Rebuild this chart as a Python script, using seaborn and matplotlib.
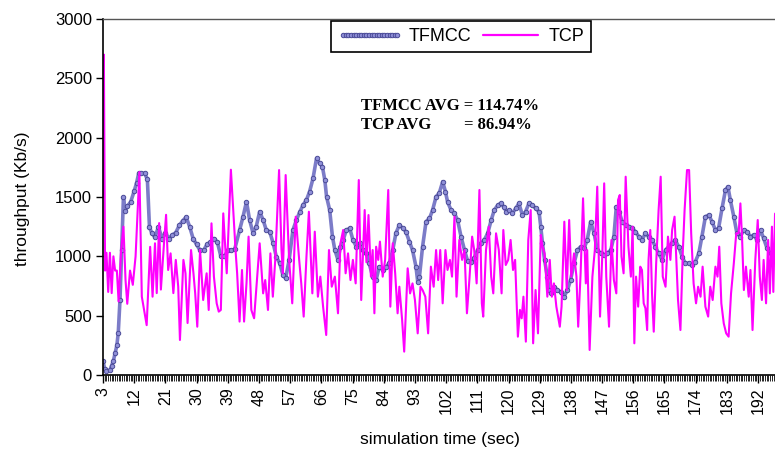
import matplotlib
matplotlib.use("Agg")
import matplotlib.pyplot as plt
import seaborn as sns
from matplotlib.lines import Line2D
from matplotlib.ticker import MultipleLocator, FixedLocator

# ---------------- data ----------------
tick_values = list(range(3, 193, 9))
tick_labels = [str(v) for v in tick_values]

tfmcc_t = [3, 3.5, 4, 5, 5.5, 6, 6.5, 7, 7.4, 7.9, 8.4, 8.9, 9.4, 10, 11, 12, 12.7, 13.3, 14, 15,
           15.8, 16.4, 17, 18, 19, 20, 21, 22, 23, 24, 25, 26, 27, 28, 29, 30, 31, 32, 33, 34,
           35, 36, 37, 38, 39, 40, 41, 42.4, 43.4, 44.4, 45.3, 46.3, 47.2, 48.2, 49.2, 50.1, 51.1,
           52.1, 53.0, 54.0, 54.9, 55.7, 56.7, 57.8, 58.8, 59.8, 60.7, 61.7, 62.6, 63.6, 64.6,
           65.5, 66.3, 67.0, 67.5, 68.4, 69.2, 69.9, 70.8, 71.5, 72.3, 73.2, 74.2, 75.1, 76.1,
           77.1, 78.0, 79.0, 79.8, 80.8, 81.8, 82.7, 83.7, 84.7, 85.6, 86.6, 87.5, 88.5, 89.5,
           90.4, 91.4, 92.3, 93.3, 93.8, 94.3, 95.2, 96.2, 97.2, 98.1, 99.1, 100.0, 101.0, 101.8,
           102.4, 103.4, 104.4, 105.3, 106.3, 107.3, 108.2, 109.2, 110.1, 111.1, 112.1, 113.0,
           114.0, 115.0, 115.9, 116.9, 117.8, 118.6, 119.4, 120.1, 121.1, 122.1, 123.0, 124.0,
           124.9, 125.9, 126.9, 127.8, 128.8, 129.3, 129.8, 130.4, 131.2, 131.7, 132.2, 133.1,
           134.1, 135.0, 136.0, 137.0, 137.9, 138.9, 139.9, 140.8, 141.8, 142.7, 143.7, 144.7,
           145.6, 146.6, 147.6, 148.5, 149.5, 150.4, 151.1, 151.9, 152.8, 153.8, 154.8, 155.7,
           156.6, 157.6, 158.5, 159.5, 160.4, 161.4, 162.4, 163.3, 164.3, 165.3, 166.2, 167.2,
           168.1, 169.1, 170.1, 171.0, 172.0, 172.9, 173.9, 174.9, 175.8, 176.8, 177.8, 178.7,
           179.7, 180.6, 181.6, 182.6, 183.3, 184.0, 185.0, 185.9, 186.9, 187.9, 188.8, 189.8,
           190.7, 191.7, 192.7, 193.6, 194.6, 195.6, 196.5]
tfmcc_v = [120, 50, 30, 40, 80, 120, 185, 250, 354, 632, 1053, 1500, 1380, 1420, 1460, 1550, 1620,
           1700, 1700, 1700, 1650, 1250, 1200, 1160, 1250, 1150, 1200, 1150, 1180, 1200, 1260, 1300,
           1330, 1250, 1150, 1100, 1050, 1050, 1100, 1120, 1150, 1120, 1000, 1000, 1050, 1050, 1060,
           1222, 1334, 1460, 1306, 1194, 1250, 1376, 1306, 1222, 1208, 1110, 997, 941, 843, 815, 970,
           1222, 1306, 1376, 1432, 1475, 1545, 1657, 1826, 1784, 1756, 1643, 1503, 1390, 1166, 1053,
           970, 1081, 1138, 1222, 1236, 1138, 1081, 1110, 1053, 1030, 941, 829, 800, 913, 885, 913,
           941, 1053, 1194, 1264, 1236, 1208, 1124, 1053, 913, 786, 829, 1081, 1292, 1320, 1390,
           1503, 1531, 1629, 1545, 1461, 1390, 1362, 1306, 1166, 1053, 960, 950, 990, 1053, 1110,
           1138, 1194, 1306, 1390, 1432, 1446, 1418, 1376, 1390, 1362, 1404, 1446, 1348, 1376, 1446,
           1432, 1404, 1376, 1250, 1110, 970, 829, 716, 688, 744, 716, 702, 660, 716, 800, 941, 1053,
           1081, 1067, 1138, 1292, 1194, 1053, 1025, 1011, 1025, 1053, 1166, 1418, 1376, 1292, 1264,
           1250, 1236, 1208, 1166, 1138, 1194, 1166, 1138, 1081, 1025, 970, 1053, 1081, 1110, 1138,
           1081, 997, 941, 941, 927, 955, 1025, 1166, 1334, 1348, 1292, 1222, 1236, 1404, 1559, 1587,
           1475, 1334, 1194, 1166, 1222, 1208, 1166, 1180, 1138, 1222, 1152, 1067, 1025, 970]

tcp_t = [3.0, 3.25, 3.6, 4.0, 4.5, 5.0, 5.5, 6.0, 6.5, 7.0, 7.5, 8.2, 8.9, 9.5, 10.0, 10.8, 11.6, 12.4,
         13.5, 14.2, 15.6, 16.6, 17.3, 18.0, 18.5, 19.2, 19.7, 20.6, 21.2, 21.8, 22.5, 23.3, 24.0,
         24.7, 25.2, 26.2, 26.8, 27.4, 28.4, 29.1, 29.6, 30.2, 31.0, 31.9, 32.9, 33.5, 34.3, 35.0,
         35.8, 36.4, 37.0, 37.7, 38.7, 39.9, 41.3, 41.7, 42.4, 43.1, 43.7, 44.4, 45.0, 45.8, 46.6,
         48.2, 49.2, 49.8, 50.6, 51.3, 52.0, 52.7, 53.8, 54.5, 54.9, 55.7, 56.7, 57.6, 58.6, 59.6,
         60.2, 60.9, 61.7, 62.4, 63.4, 64.1, 65.0, 65.7, 66.5, 67.4, 68.2, 69.0, 69.9, 70.8, 71.5,
         72.3, 73.0, 73.7, 74.4, 75.1, 75.9, 76.8, 77.5, 78.5, 79.0, 79.6, 80.3, 80.8, 81.3, 81.8,
         82.4, 82.9, 83.7, 84.4, 85.3, 85.9, 86.6, 87.3, 88.0, 88.5, 89.3, 89.9, 90.9, 91.6, 92.3,
         93.0, 93.8, 94.6, 95.2, 96.0, 96.8, 97.6, 98.4, 99.1, 99.7, 100.3, 101.0, 101.8, 102.4,
         103.1, 103.7, 104.4, 105.0, 105.8, 106.6, 107.3, 108.0, 108.7, 109.5, 110.1, 110.8,
         111.6, 112.3, 112.7, 113.5, 114.3, 115.0, 115.6, 116.4, 117.2, 118.0, 118.5, 119.2,
         119.9, 120.6, 121.3, 121.9, 122.7, 123.3, 123.8, 124.3, 125.0, 125.7, 126.4, 127.1,
         127.8, 128.5, 129.3, 129.8, 130.4, 131.2, 131.9, 132.5, 133.1, 133.8, 134.8, 135.3,
         136.1, 136.8, 137.5, 138.1, 138.9, 139.6, 140.1, 140.8, 141.5, 142.3, 142.7, 143.4,
         144.2, 144.9, 145.6, 146.4, 147.1, 147.6, 148.2, 149.0, 149.7, 150.4, 151.1, 151.6,
         152.1, 152.6, 153.2, 153.8, 154.6, 155.3, 155.8, 156.3, 156.8, 157.4, 158.0, 158.5,
         159.0, 159.5, 160.0, 160.4, 160.9, 161.4, 161.9, 162.6, 163.3, 163.9, 164.5, 165.3,
         166.0, 166.7, 167.2, 167.9, 168.3, 168.9, 169.6, 170.3, 170.8, 171.5, 172.1, 172.7,
         173.4, 174.1, 174.7, 175.4, 176.0, 176.8, 177.6, 178.2, 178.9, 179.7, 180.3, 180.8,
         181.4, 182.1, 182.8, 183.5, 184.2, 185.0, 185.7, 186.4, 186.9, 187.4, 187.9, 188.5,
         189.3, 189.8, 190.4, 191.2, 191.9, 192.5, 193.1, 193.6, 194.3, 194.9, 195.4, 196.0,
         196.4, 196.9]
tcp_v = [1500, 2700, 880, 1030, 700, 1030, 690, 1000, 880, 880, 620, 1040, 1250, 800, 600, 880, 760, 1000,
         1710, 660, 420, 1080, 660, 1110, 690, 1280, 720, 1110, 1350, 885, 1025, 690, 970, 745,
         295, 970, 857, 438, 1053, 857, 688, 407, 1053, 632, 857, 548, 1278, 829, 604, 534, 548,
         1362, 857, 1730, 1025, 857, 450, 885, 450, 772, 1166, 548, 478, 1110, 688, 800, 548, 1025,
         660, 970, 1727, 1053, 857, 1685, 970, 604, 1334, 970, 772, 492, 997, 1376, 688, 1208, 660,
         829, 576, 337, 1053, 744, 829, 520, 1110, 1222, 857, 1025, 800, 970, 772, 1643, 632, 1390,
         950, 1348, 829, 1053, 520, 1081, 970, 1124, 829, 970, 1559, 576, 1110, 857, 520, 744, 464,
         197, 899, 688, 772, 632, 351, 744, 716, 660, 351, 913, 744, 1053, 800, 1053, 604, 1053,
         885, 970, 829, 1334, 660, 1138, 970, 1053, 520, 800, 1166, 1053, 772, 1559, 604, 492, 1053,
         1250, 829, 688, 1194, 1053, 688, 1222, 927, 970, 1138, 885, 970, 323, 548, 478, 660, 281,
         1138, 1390, 267, 716, 351, 1180, 1081, 1025, 660, 970, 660, 772, 576, 407, 576, 1292, 716,
         1306, 829, 1025, 829, 407, 857, 1489, 772, 1053, 211, 829, 1053, 1587, 492, 1053, 1615,
         829, 407, 1138, 800, 688, 1475, 1517, 997, 857, 1671, 1081, 829, 1250, 267, 829, 576, 913,
         885, 604, 562, 379, 970, 1222, 688, 365, 941, 1390, 1671, 829, 744, 1166, 970, 1222, 1334,
         1053, 632, 379, 1053, 1390, 1727, 1727, 1194, 772, 604, 744, 660, 913, 576, 492, 744, 632,
         913, 829, 1081, 604, 435, 351, 323, 688, 941, 1194, 1194, 1446, 1138, 716, 913, 660, 885,
         379, 970, 1306, 829, 632, 970, 604, 1138, 688, 1250, 700, 1360]

series_names = ["TFMCC", "TCP"]
avg_lines = ["TFMCC AVG = 114.74%", "TCP AVG", "= 86.94%"]

# ---------------- styling ----------------
sns.set_theme(style="white")
plt.rcParams['font.family'] = ['Liberation Sans', 'DejaVu Sans']
plt.rcParams.update({'text.color': 'black', 'axes.labelcolor': 'black',
                     'xtick.color': 'black', 'ytick.color': 'black'})

TF_LINE = "#7c7cc8"
TF_FACE = "#9090d8"
TF_EDGE = "#4c4c98"
TCP_COL = "#ff00ff"

W, H = 775, 451
fig = plt.figure(figsize=(W / 100, H / 100), dpi=100)
L, R, T, B = 103, 775, 19, 375
ax = fig.add_axes([L / W, 1 - B / H, (R - L) / W, (B - T) / H])

tf_kw = dict(color=TF_LINE, linewidth=2.6, marker='o', markersize=3.2,
             markerfacecolor=TF_FACE, markeredgecolor=TF_EDGE, markeredgewidth=0.7)
sns.lineplot(x=tfmcc_t, y=tfmcc_v, ax=ax, sort=False, estimator=None, **tf_kw)
sns.lineplot(x=tcp_t, y=tcp_v, ax=ax, sort=False, estimator=None, color=TCP_COL, linewidth=1.5)

ax.set_xlim(3, 3 + (R - L) / 3.466)
ax.set_ylim(0, 3000)

ax.xaxis.set_major_locator(FixedLocator(tick_values))
ax.set_xticklabels(tick_labels, rotation=90, fontsize=11.5)
ax.xaxis.set_minor_locator(MultipleLocator(0.5))
ax.yaxis.set_major_locator(MultipleLocator(500))
ax.tick_params(axis='y', labelsize=12, direction='out', length=5, width=1, color='black',
               labelcolor='black', pad=3, left=True)
ax.tick_params(axis='x', which='major', direction='out', length=6, width=1, color='black',
               labelcolor='black', pad=3, bottom=True)
ax.tick_params(axis='x', which='minor', direction='out', length=4, width=0.6, color='black', bottom=True)

for s in ['left', 'bottom']:
    ax.spines[s].set_color('black')
    ax.spines[s].set_linewidth(1.2)
ax.spines['top'].set_color('#555555')
ax.spines['top'].set_linewidth(1.0)
ax.spines['right'].set_visible(False)

ax.set_xlabel("simulation time (sec)", fontsize=12.5, color='black')
ax.set_ylabel("throughput (Kb/s)", fontsize=12.5, color='black')
ax.xaxis.set_label_coords((440 - L) / (R - L), (B - 432) / (B - T))
ax.yaxis.set_label_coords((30 - L) / (R - L), (B - 199) / (B - T))

handles = [Line2D([], [], **tf_kw), Line2D([], [], color=TCP_COL, linewidth=1.6)]
leg = ax.legend(handles, series_names, ncol=2, loc='upper center',
                bbox_to_anchor=((461 - L) / (R - L), (B - 21) / (B - T)),
                frameon=True, fancybox=False, edgecolor='black', framealpha=1,
                fontsize=13, handlelength=3.6, numpoints=22, columnspacing=0.4,
                handletextpad=0.3, borderpad=0.4, borderaxespad=0, labelcolor='black')
leg.get_frame().set_linewidth(1.2)

serif = dict(family=['Liberation Serif', 'DejaVu Serif'], fontsize=12, weight='bold',
             va='center', ha='left', color='black')
fig.text(361 / W, 1 - 106 / H, avg_lines[0], **serif)
fig.text(361 / W, 1 - 125 / H, avg_lines[1], **serif)
fig.text(464 / W, 1 - 125 / H, avg_lines[2], **serif)

fig.savefig("out.png", dpi=100, facecolor='white')
